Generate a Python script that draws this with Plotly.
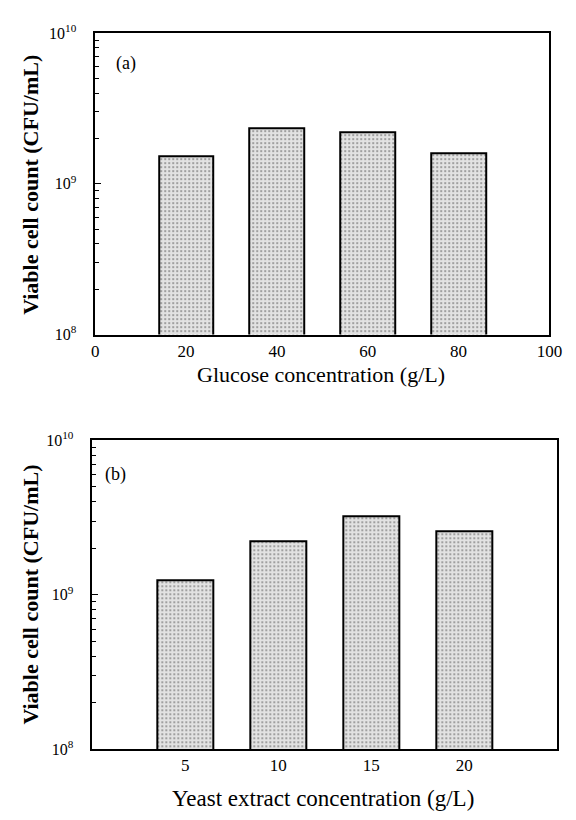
import plotly.graph_objects as go

# Panel (a): glucose concentration
glucose_conc = [20, 40, 60, 80]
glucose_counts = [1.52e9, 2.33e9, 2.22e9, 1.59e9]

# Panel (b): yeast extract concentration
yeast_conc = [5, 10, 15, 20]
yeast_counts = [1.24e9, 2.23e9, 3.22e9, 2.56e9]

y_tickvals = [1e8, 1e9, 1e10]
y_ticktext = ["10<sup>8</sup>", "10<sup>9</sup>", "10<sup>10</sup>"]
a_xticks = [0, 20, 40, 60, 80, 100]
b_xticks = [5, 10, 15, 20]

FONT = "Liberation Serif"
minor_vals = [m * 10 ** e for e in (8, 9) for m in range(2, 10)]

pattern = dict(shape=".", bgcolor="#e2e2e2", fgcolor="#3a3a3a", size=4, solidity=0.22)

fig = go.Figure()
fig.add_trace(go.Bar(x=glucose_conc, y=glucose_counts, width=12,
                     marker=dict(color="#e2e2e2", pattern=pattern,
                                 line=dict(color="black", width=2)),
                     xaxis="x", yaxis="y", showlegend=False))
fig.add_trace(go.Bar(x=yeast_conc, y=yeast_counts, width=3,
                     marker=dict(color="#e8e8e8", pattern=pattern,
                                 line=dict(color="black", width=2)),
                     xaxis="x2", yaxis="y2", showlegend=False))

axis_common = dict(showline=True, linecolor="black", linewidth=1.6, mirror=True,
                   showgrid=False, zeroline=False,
                   tickfont=dict(family=FONT, size=17, color="black"))

yaxis_common = dict(axis_common, type="log", range=[8, 10], tickmode="array",
                    tickvals=y_tickvals, ticktext=y_ticktext, ticks="inside",
                    ticklen=6, tickcolor="black", ticklabelstandoff=14,
                    tickfont=dict(family=FONT, size=16, color="black"),
                    minor=dict(tickmode="array", tickvals=minor_vals, ticks="inside",
                               ticklen=4, tickcolor="black", showgrid=False))

fig.update_layout(
    width=576, height=820,
    margin=dict(l=0, r=0, t=0, b=0),
    paper_bgcolor="white", plot_bgcolor="white",
    bargap=0,
    xaxis=dict(axis_common, domain=[0.1632, 0.9757], range=[0, 100], tickmode="array",
               tickvals=a_xticks, ticks="", anchor="y"),
    yaxis=dict(yaxis_common, domain=[0.5955, 0.9723], anchor="x"),
    xaxis2=dict(axis_common, domain=[0.158, 0.9896], range=[0, 25], tickmode="array",
                tickvals=b_xticks, ticks="", anchor="y2"),
    yaxis2=dict(yaxis_common, domain=[0.0772, 0.4634], anchor="x2"),
)

ytitle_font = dict(family=FONT, size=22, color="black")
annots = [
    dict(text="<b>Viable cell count (CFU/mL)</b>", x=27 / 576, y=1 - 178 / 820, textangle=-90,
         font=ytitle_font),
    dict(text="Glucose concentration (g/L)", x=327 / 576, y=1 - 373 / 820,
         font=dict(family=FONT, size=22, color="black")),
    dict(text="<b>Viable cell count (CFU/mL)</b>", x=27 / 576, y=1 - 598 / 820, textangle=-90,
         font=ytitle_font),
    dict(text="Yeast extract concentration (g/L)", x=329 / 576, y=1 - 807 / 820,
         font=dict(family=FONT, size=23, color="black")),
    dict(text="(a)", x=126 / 576, y=1 - 54 / 820, font=dict(family=FONT, size=18, color="black")),
    dict(text="(b)", x=115 / 576, y=1 - 475 / 820, font=dict(family=FONT, size=18, color="black")),
]
for a in annots:
    fig.add_annotation(xref="paper", yref="paper", showarrow=False,
                       xanchor="center", yanchor="middle", **a)

fig.write_html("out.html")
